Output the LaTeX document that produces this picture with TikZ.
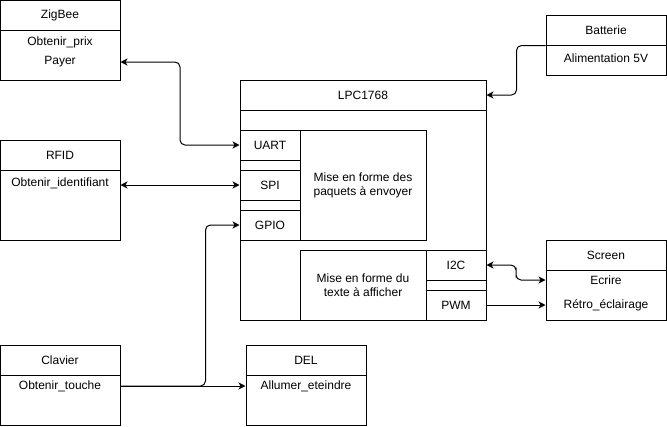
\documentclass[tikz,border=0pt]{standalone}
\usepackage{fontspec}
\setmainfont{Liberation Sans}
\usetikzlibrary{arrows.meta,calc}

\begin{document}
\begin{tikzpicture}[	x=1pt,y=-1pt,%
					line width=1pt,%
					>={Stealth[length=7pt,width=7pt,inset=2pt]},%
					font=\fontsize{12pt}{14pt}\selectfont,%
					box/.style={draw,inner sep=0pt,minimum width=120,minimum height=30},%
					port/.style={draw,inner sep=0pt,minimum width=60,minimum height=30},%
					meth/.style={inner sep=0pt,minimum width=120,minimum height=20},%
					link/.style={rounded corners=5pt}]
\useasboundingbox (0,0) rectangle (667,426);

% class boxes: header with name, then body
\foreach \a\b\c\d in { zighead/60/15/ZigBee,rfidhead/60/155/RFID,clavhead/60/360/Clavier,delhead/306/360/DEL,bathead/606/30/Batterie,scrhead/606/255/Screen}
	\node [box] (\a) at (\b,\c) {\d};

\foreach \a\b\c\d in { zigbody/60/55/50,rfidbody/60/205/70,clavbody/60/400/50,delbody/306/400/50,batbody/606/60/30,scrbody/606/295/50}
	\node [box,minimum height=\d] (\a) at (\b,\c) {};

\foreach \a\b\c\d in { zigprix/60/42/Obtenir\_prix,zigpayer/60/62/Payer,rfidid/60/183/Obtenir\_identifiant,clavtouche/60/386/Obtenir\_touche,delallum/306/386/Allumer\_eteindre,batalim/606/58/{Alimentation 5V},screcrire/606/280/Ecrire,scrretro/606/305/{R\'etro\_\'eclairage}}
	\node [meth] (\a) at (\b,\c) {\d};

% LPC1768
\node [draw,inner sep=0pt,minimum width=246,minimum height=210] (lpcbody) at (363,215) {};
\node [draw,inner sep=0pt,minimum width=246,minimum height=30] (lpchead) at (363,95) {LPC1768};

\foreach \a\b\c\d in { uart/270/145/UART,spi/270/185/SPI,gpio/270/225/GPIO,i2c/456/265/I2C,pwm/456/305/PWM}
	\node [port] (\a) at (\b,\c) {\d};
\foreach \a\b\c in { sepa/270/165,sepb/270/205,sepc/456/285}
	\node [port,minimum height=10] (\a) at (\b,\c) {};

\node [draw,inner sep=0pt,minimum width=126,minimum height=110,align=center] (paquets) at (363,185) {Mise en forme des\\paquets \`a envoyer};
\node [draw,inner sep=0pt,minimum width=126,minimum height=70,align=center] (texte) at (363,285) {Mise en forme du\\texte \`a afficher};

% links
\draw [<->,link] (zigpayer.east) -| ($(zigpayer.east)!.5!(uart.west)$) |- (uart.west);
\draw [<->] (rfidid.east |- spi.west) -- (spi.west);
\draw [->,link] (clavtouche.east) -| ([xshift=-34pt]gpio.west) -- (gpio.west);
\draw [->] (clavtouche.east) -- (delallum.west);
\draw [->,link] (bathead.south west) -| ([xshift=30pt]lpchead.east) -- (lpchead.east);
\draw [<->,link] (i2c.east) -| ($(i2c.east)!.5!(screcrire.west)$) |- (screcrire.west);
\draw [->] (pwm.east) -- (scrretro.west);

\end{tikzpicture}
\end{document}
